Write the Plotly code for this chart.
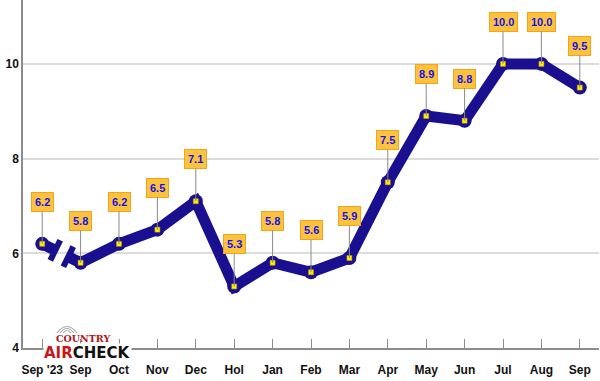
import math
import plotly.graph_objects as go

categories = ["Sep '23", "Sep", "Oct", "Nov", "Dec", "Hol", "Jan", "Feb", "Mar",
              "Apr", "May", "Jun", "Jul", "Aug", "Sep"]
values = [6.2, 5.8, 6.2, 6.5, 7.1, 5.3, 5.8, 5.6, 5.9, 7.5, 8.9, 8.8, 10.0, 10.0, 9.5]
y_ticks = [4, 6, 8, 10]

NAVY = "#1a0f8f"
W, H = 600, 381
ML, MR, MT, MB = 23, 1, 0, 33
PW, PH = W - ML - MR, H - MT - MB
XR = [-0.5, len(categories) - 0.5]
YR = [4, 11.35]

xs = list(range(len(categories)))

# axis break between first two points
b1, b2 = 0.34, 0.68
def lerp(t):
    return values[0] + (values[1] - values[0]) * t

fig = go.Figure()
fig.add_trace(go.Scatter(x=[0, b1], y=[values[0], lerp(b1)], mode="lines",
                         line=dict(color=NAVY, width=11), hoverinfo="skip"))
fig.add_trace(go.Scatter(x=[b2] + xs[1:], y=[lerp(b2)] + values[1:], mode="lines",
                         line=dict(color=NAVY, width=11), hoverinfo="skip"))
# break bars
pxx = PW / (XR[1] - XR[0])
pxy = PH / (YR[1] - YR[0])
ang = math.degrees(math.atan2((values[0] - values[1]) * pxy, pxx))
fig.add_trace(go.Scatter(x=[b1, b2], y=[lerp(b1), lerp(b2)], mode="markers",
                         marker=dict(symbol="line-ns", size=16, angle=ang,
                                     line=dict(color=NAVY, width=6)),
                         hoverinfo="skip"))
fig.add_trace(go.Scatter(x=xs, y=values, mode="markers",
                         marker=dict(symbol="circle", size=14, color=NAVY),
                         hoverinfo="skip"))
fig.add_trace(go.Scatter(x=xs, y=values, mode="markers",
                         marker=dict(symbol="square", size=5, color="#ffee00",
                                     line=dict(color="#c8a000", width=0.5)),
                         hoverinfo="skip"))

for x, v in zip(xs, values):
    fig.add_annotation(x=x, y=v, xref="x", yref="y", text=f"<b>{v:.1f}</b>",
                       showarrow=True, arrowhead=0, arrowwidth=1, arrowcolor="#8a8a8a",
                       ax=0, ay=-42, standoff=0,
                       font=dict(family="Liberation Sans", size=11, color="#1414e6"),
                       bgcolor="#fdc23e", bordercolor="#f3a41c", borderwidth=1, borderpad=3)

# logo
def P(px, py):
    return (px - ML) / PW, (H - MB - py) / PH

cx, cy = 67, 333
for r, h in [(4, 2.5), (7, 4.5), (10, 6.5)]:
    x0, y0 = P(cx - r, cy)
    x1, y1 = P(cx + r, cy)
    qx, qy = P(cx, cy - 2 * h)
    fig.add_shape(type="path", xref="paper", yref="paper",
                  path=f"M {x0} {y0} Q {qx} {qy} {x1} {y1}",
                  line=dict(color="#aaaaaa", width=1.2))
lx, ly = P(87, 353)
fig.add_annotation(xref="paper", yref="paper", x=lx, y=ly, showarrow=False,
                   xanchor="center", yanchor="middle",
                   text="<b><span style='color:#c8161d'>AIR</span>CHECK</b>",
                   font=dict(family="DejaVu Sans", size=15, color="#111111"),
                   bgcolor="#ffffff", borderpad=0)
lx2, ly2 = P(83, 338.5)
fig.add_annotation(xref="paper", yref="paper", x=lx2, y=ly2, showarrow=False,
                   xanchor="center", yanchor="middle",
                   text="<b>COUNTRY</b>",
                   font=dict(family="DejaVu Serif", size=9.5, color="#b3141c"))

fig.update_layout(
    width=W, height=H, margin=dict(l=ML, r=MR, t=MT, b=MB),
    paper_bgcolor="white", plot_bgcolor="white", showlegend=False,
    xaxis=dict(range=XR, tickvals=xs, ticktext=[f"<b>{c}</b>" for c in categories],
               tickfont=dict(family="Liberation Sans", size=12, color="#111111"),
               showgrid=False, zeroline=False, showline=True, linecolor="#8c8c8c",
               linewidth=1.5, ticks="inside", ticklen=9, tickcolor="#8c8c8c",
               ticklabelstandoff=10),
    yaxis=dict(range=YR, tickvals=y_ticks, ticktext=[f"<b>{t}</b>" for t in y_ticks],
               tickfont=dict(family="Liberation Sans", size=12, color="#111111"),
               showgrid=True, gridcolor="#dcdcdc", gridwidth=1.5, zeroline=False,
               showline=True, linecolor="#8c8c8c", linewidth=1.5, ticks=""),
)

fig.write_html("out.html", config={"displayModeBar": False},
               post_script="document.body.style.margin='0px';")
